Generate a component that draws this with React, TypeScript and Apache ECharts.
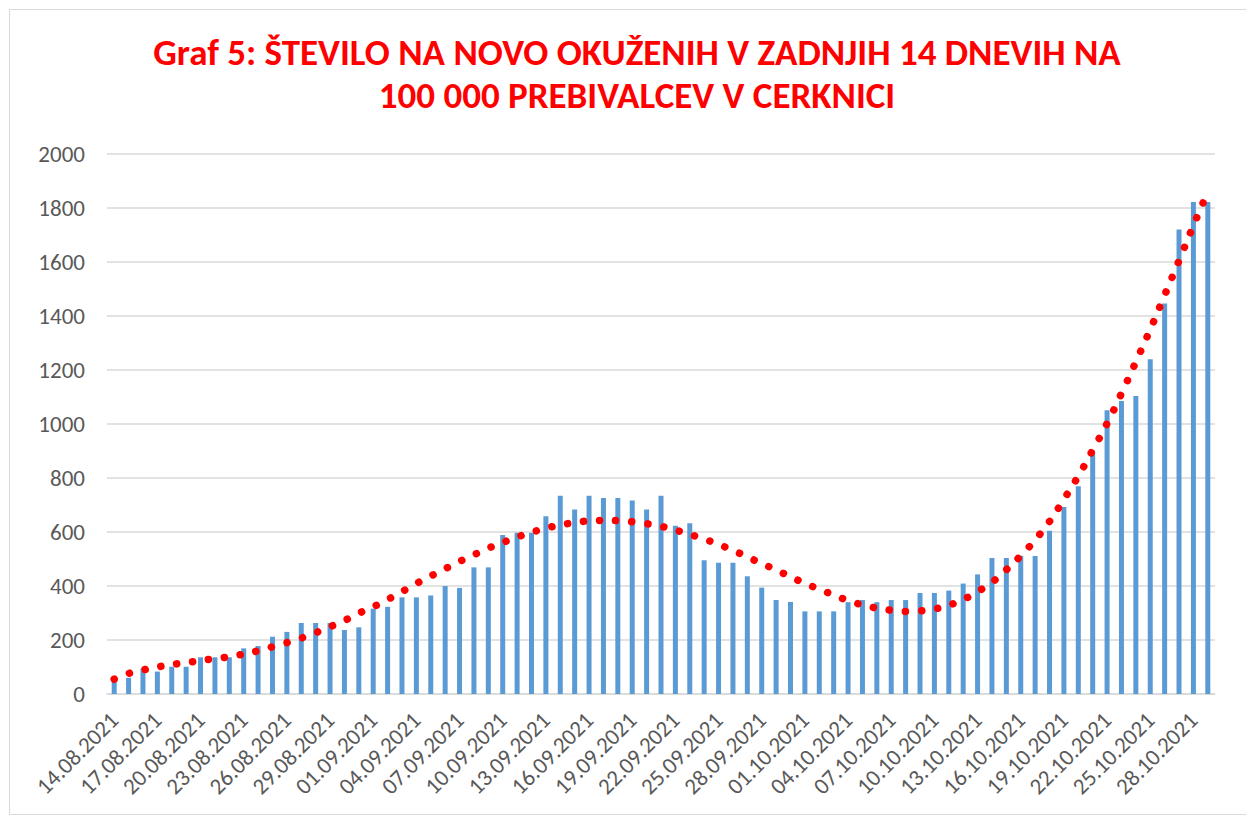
import React, { useEffect, useRef } from "react";
import * as echarts from "echarts";

const titleText = "Graf 5: ŠTEVILO NA NOVO OKUŽENIH V ZADNJIH 14 DNEVIH NA\n100 000 PREBIVALCEV V CERKNICI";

const categories = [
  "14.08.2021", "15.08.2021", "16.08.2021", "17.08.2021", "18.08.2021", "19.08.2021", "20.08.2021",
  "21.08.2021", "22.08.2021", "23.08.2021", "24.08.2021", "25.08.2021", "26.08.2021", "27.08.2021",
  "28.08.2021", "29.08.2021", "30.08.2021", "31.08.2021", "01.09.2021", "02.09.2021", "03.09.2021",
  "04.09.2021", "05.09.2021", "06.09.2021", "07.09.2021", "08.09.2021", "09.09.2021", "10.09.2021",
  "11.09.2021", "12.09.2021", "13.09.2021", "14.09.2021", "15.09.2021", "16.09.2021", "17.09.2021",
  "18.09.2021", "19.09.2021", "20.09.2021", "21.09.2021", "22.09.2021", "23.09.2021", "24.09.2021",
  "25.09.2021", "26.09.2021", "27.09.2021", "28.09.2021", "29.09.2021", "30.09.2021", "01.10.2021",
  "02.10.2021", "03.10.2021", "04.10.2021", "05.10.2021", "06.10.2021", "07.10.2021", "08.10.2021",
  "09.10.2021", "10.10.2021", "11.10.2021", "12.10.2021", "13.10.2021", "14.10.2021", "15.10.2021",
  "16.10.2021", "17.10.2021", "18.10.2021", "19.10.2021", "20.10.2021", "21.10.2021", "22.10.2021",
  "23.10.2021", "24.10.2021", "25.10.2021", "26.10.2021", "27.10.2021", "28.10.2021", "29.10.2021",
];

const incidence = [
  46, 60, 94, 83, 101, 101, 136, 136, 136, 169, 178, 212, 230, 263, 263, 263, 237, 247, 316, 323,
  358, 358, 365, 400, 393, 469, 469, 589, 597, 597, 658, 734, 683, 734, 726, 726, 717, 683, 734, 623,
  632, 495, 486, 486, 436, 394, 348, 341, 306, 306, 306, 340, 348, 340, 348, 348, 374, 374, 383, 409,
  443, 504, 504, 512, 511, 605, 693, 769, 888, 1051, 1085, 1104, 1240, 1446, 1720, 1822, 1822,
];

const trend = [
  55, 76, 89, 100, 109, 116, 124, 131, 138, 148, 160, 175, 190, 207, 227, 249, 272, 299, 323, 350,
  379, 409, 437, 464, 491, 516, 540, 561, 581, 599, 614, 626, 635, 641, 643, 642, 638, 631, 621, 607,
  591, 574, 554, 532, 508, 483, 460, 434, 410, 388, 367, 346, 330, 318, 310, 306, 308, 315, 329, 350,
  379, 414, 460, 512, 571, 639, 721, 807, 903, 1002, 1113, 1230, 1350, 1477, 1605, 1735, 1860,
];

const yTicks = { min: 0, max: 2000, interval: 200 };

const FONT = "Carlito, Calibri, 'Liberation Sans', Arial, sans-serif";

export default function App() {
  const ref = useRef<HTMLDivElement>(null);

  useEffect(() => {
    document.body.style.margin = "0";
    if (!ref.current) return;
    const chart = echarts.init(ref.current, undefined, { renderer: "svg" });
    chart.setOption({
      animation: false,
      backgroundColor: "#ffffff",
      textStyle: { fontFamily: FONT },
      title: {
        text: titleText,
        left: 632,
        top: 26,
        textAlign: "center",
        textStyle: {
          color: "#FF0000",
          fontWeight: "bold",
          fontSize: 37,
          lineHeight: 43,
          fontFamily: FONT,
        },
      },
      graphic: [
        {
          type: "rect",
          shape: { x: 9.5, y: 9.5, width: 1240, height: 805 },
          style: { fill: "none", stroke: "#D9D9D9", lineWidth: 1 },
          silent: true,
          z: -1,
        },
      ],
      grid: { left: 107, right: 31, top: 154, bottom: 125, containLabel: false },
      xAxis: {
        type: "category",
        data: categories,
        boundaryGap: true,
        axisLine: { show: true, lineStyle: { color: "#D9D9D9", width: 1.5 } },
        axisTick: { show: false },
        axisLabel: {
          interval: 2,
          rotate: 45,
          fontSize: 23,
          color: "#595959",
          margin: 22,
          fontFamily: FONT,
        },
      },
      yAxis: {
        type: "value",
        min: yTicks.min,
        max: yTicks.max,
        interval: yTicks.interval,
        axisLine: { show: false },
        axisTick: { show: false },
        axisLabel: {
          fontSize: 23,
          color: "#595959",
          margin: 22,
          fontFamily: FONT,
          formatter: (v: number) => String(v),
        },
        splitLine: { lineStyle: { color: "#D9D9D9", width: 1.5 } },
      },
      series: [
        {
          type: "bar",
          data: incidence,
          barWidth: 5,
          itemStyle: { color: "#5B9BD5" },
          z: 2,
        },
        {
          type: "line",
          data: trend,
          smooth: true,
          symbol: "none",
          lineStyle: { color: "#FF0000", width: 7.5, type: [0.1, 16], cap: "round" },
          z: 3,
        },
      ],
    });
    return () => chart.dispose();
  }, []);

  return <div ref={ref} style={{ width: 1246, height: 819 }} />;
}
